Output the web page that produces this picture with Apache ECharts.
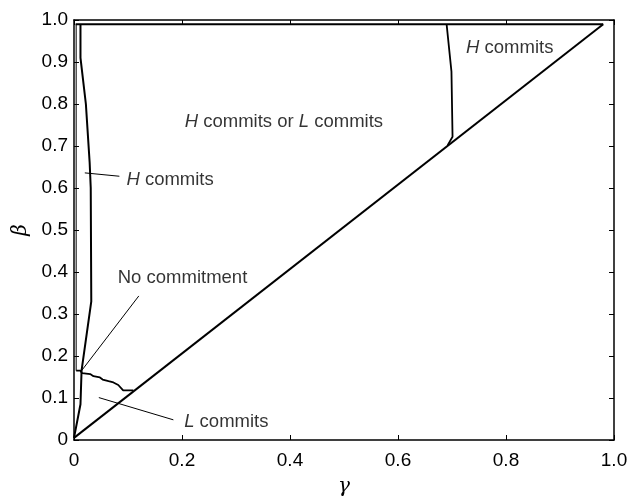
<!DOCTYPE html>
<html>
<head>
<meta charset="utf-8">
<script src="https://cdn.jsdelivr.net/npm/echarts@6/dist/echarts.min.js"></script>
<style>html,body{margin:0;padding:0;background:#fff}#c{width:627px;height:496px}</style>
</head>
<body>
<div id="c"></div>
<script>
// ---- data (gamma, beta) ----
var diagonal = [[0, 0.005], [0.98, 0.99]];
var topLine = [[0.003, 0.99], [0.98, 0.99]];
var leftInner = [[0.004, 0.99], [0.004, 0.165]];
var hLeftBoundary = [[0.012, 0.99], [0.012, 0.91], [0.022, 0.80], [0.029, 0.66], [0.031, 0.60], [0.032, 0.33], [0.014, 0.165], [0.012, 0.085], [0, 0.005]];
var lBoundary = [[0.004, 0.165], [0.012, 0.165], [0.015, 0.159], [0.030, 0.157], [0.036, 0.152], [0.048, 0.149], [0.053, 0.144], [0.064, 0.140], [0.073, 0.137], [0.082, 0.131], [0.091, 0.118], [0.110, 0.118]];
var hRightBoundary = [[0.69, 0.99], [0.699, 0.877], [0.701, 0.722], [0.692, 0.702]];
var pointerH = [[0.02, 0.636], [0.084, 0.628]];
var pointerNone = [[0.12, 0.343], [0.014, 0.165]];
var pointerL = [[0.046, 0.101], [0.184, 0.048]];
var xTicks = ['0', '0.2', '0.4', '0.6', '0.8', '1.0'];
var yTicks = ['0', '0.1', '0.2', '0.3', '0.4', '0.5', '0.6', '0.7', '0.8', '0.9', '1.0'];
// annotations: [gamma, beta, italic letter, rest]
var annotations = [
  [0.097, 0.62, 'H', ' commits'],
  [0.081, 0.385, '', 'No commitment'],
  [0.204, 0.043, 'L', ' commits'],
  [0.205, 0.757, 'H', ' commits or {i|L} commits'],
  [0.726, 0.933, 'H', ' commits']
];

var chart = echarts.init(document.getElementById('c'));
var font = 'Liberation Sans, Arial, Helvetica, sans-serif';
var greek = 'DejaVu Serif, Liberation Serif, serif';
function fmt(list, step) {
  return function (v) { var i = Math.round(v / step); return list[i] !== undefined ? list[i] : ''; };
}
function lineSeries(data, w) {
  return { type: 'line', data: data, symbol: 'none', silent: true,
    lineStyle: { color: '#000', width: w }, z: 3 };
}
function tick() { return { show: true, inside: true, length: 5, lineStyle: { color: '#000', width: 1 } }; }
function line() { return { show: true, onZero: false, lineStyle: { color: '#000', width: 1.5 } }; }
var option = {
  animation: false,
  backgroundColor: '#fff',
  grid: { left: 74, right: 13, top: 20, bottom: 56, containLabel: false, outerBoundsMode: 'none' },
  xAxis: [
    { type: 'value', min: 0, max: 1, interval: 0.2, position: 'bottom',
      axisLine: line(), axisTick: tick(), splitLine: { show: false },
      axisLabel: { color: '#000', fontSize: 19, fontFamily: font, margin: 11, formatter: fmt(xTicks, 0.2) },
      name: 'γ', nameLocation: 'middle', nameGap: 37,
      nameTextStyle: { color: '#000', fontSize: 20, fontStyle: 'italic', fontFamily: greek } },
    { type: 'value', min: 0, max: 1, interval: 0.2, position: 'top',
      axisLine: line(), axisTick: tick(), splitLine: { show: false }, axisLabel: { show: false } }
  ],
  yAxis: [
    { type: 'value', min: 0, max: 1, interval: 0.1, position: 'left',
      axisLine: line(), axisTick: tick(), splitLine: { show: false },
      axisLabel: { color: '#000', fontSize: 19, fontFamily: font, margin: 6, formatter: fmt(yTicks, 0.1) },
      name: 'β', nameLocation: 'middle', nameGap: 41,
      nameTextStyle: { color: '#000', fontSize: 20, fontStyle: 'italic', fontFamily: greek } },
    { type: 'value', min: 0, max: 1, interval: 0.1, position: 'right',
      axisLine: line(), axisTick: tick(), splitLine: { show: false }, axisLabel: { show: false } }
  ],
  series: [
    lineSeries(diagonal, 2),
    lineSeries(topLine, 2),
    lineSeries(leftInner, 1),
    lineSeries(hLeftBoundary, 2),
    lineSeries(lBoundary, 1.8),
    lineSeries(hRightBoundary, 1.8),
    lineSeries(pointerH, 1),
    lineSeries(pointerNone, 1),
    lineSeries(pointerL, 1),
    {
      type: 'scatter', symbolSize: 0, silent: true, z: 5,
      data: annotations.map(function (a) { return { value: [a[0], a[1]], lead: a[2], rest: a[3] }; }),
      label: {
        show: true, position: 'right', distance: 0, color: '#000', fontSize: 18.5, fontFamily: font,
        formatter: function (p) { return (p.data.lead ? '{i|' + p.data.lead + '}' : '') + p.data.rest; },
        rich: { i: { fontStyle: 'italic', fontSize: 18.5, fontFamily: font, color: '#000' } }
      }
    }
  ]
};
chart.setOption(option);
</script>
</body>
</html>
